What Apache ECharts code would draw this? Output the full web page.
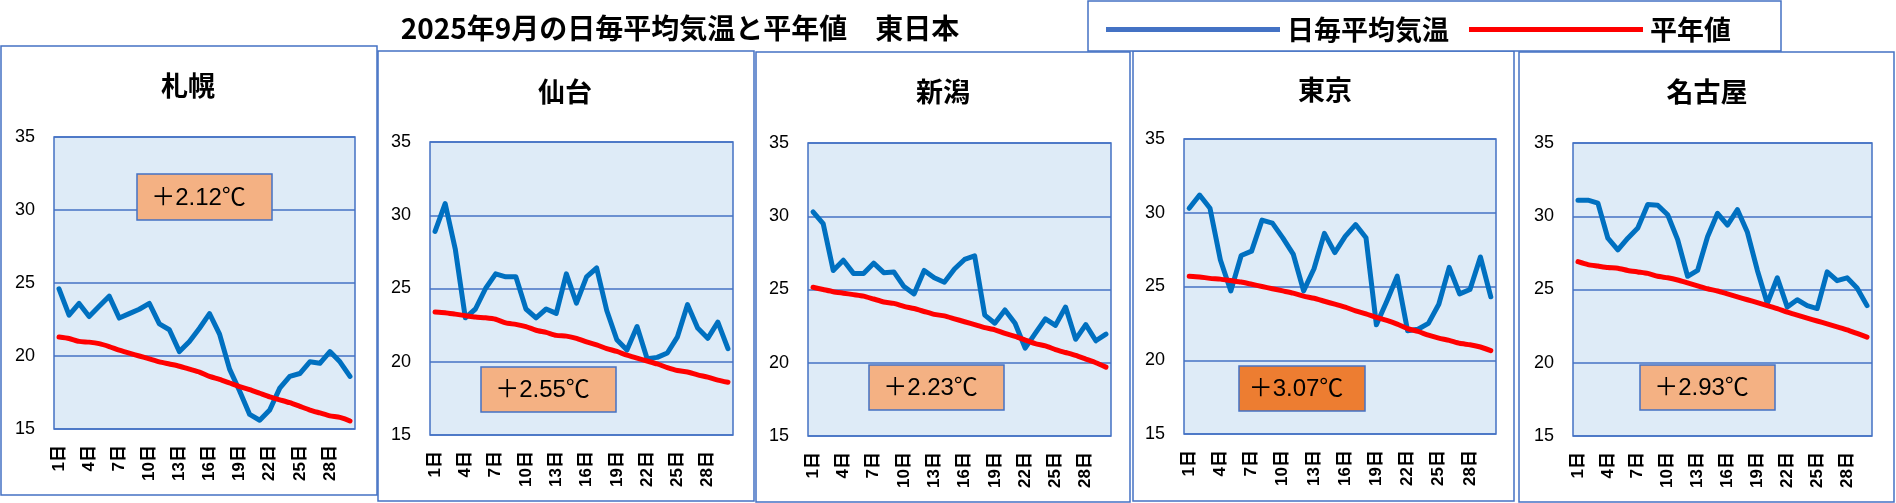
<!DOCTYPE html>
<html>
<head>
<meta charset="utf-8">
<script src="https://cdn.jsdelivr.net/npm/echarts@6/dist/echarts.min.js"></script>
<style>html,body{margin:0;padding:0;background:#fff;}#c{width:1896px;height:503px;}</style>
</head>
<body>
<div id="c"></div>
<script>
// ---- data ----
const mainTitle = '2025年9月の日毎平均気温と平年値　東日本';
const seriesNames = ['日毎平均気温', '平年値'];
const stations = ['札幌', '仙台', '新潟', '東京', '名古屋'];
const days = ['1日','2日','3日','4日','5日','6日','7日','8日','9日','10日','11日','12日','13日','14日','15日','16日','17日','18日','19日','20日','21日','22日','23日','24日','25日','26日','27日','28日','29日','30日'];
const anomalies = [2.12, 2.55, 2.23, 3.07, 2.93];
const yTicks = [15, 20, 25, 30, 35];

const sapporoDaily  = [24.6,22.8,23.6,22.7,23.4,24.1,22.6,22.9,23.2,23.6,22.2,21.8,20.3,21.0,21.9,22.9,21.5,19.1,17.6,16.0,15.6,16.3,17.8,18.6,18.8,19.6,19.5,20.3,19.6,18.6];
const sapporoNormal = [21.3,21.2,21.0,20.95,20.85,20.65,20.4,20.2,20.0,19.8,19.6,19.45,19.3,19.1,18.9,18.6,18.4,18.15,17.9,17.7,17.45,17.2,17.0,16.8,16.55,16.3,16.1,15.9,15.8,15.55];
const sendaiDaily   = [28.9,30.8,27.7,23.0,23.6,25.0,26.0,25.8,25.8,23.6,23.0,23.6,23.3,26.0,24.0,25.8,26.4,23.5,21.5,20.8,22.4,20.2,20.3,20.6,21.7,23.9,22.3,21.6,22.7,20.9];
const sendaiNormal  = [23.4,23.35,23.25,23.15,23.05,23.0,22.9,22.65,22.55,22.4,22.15,22.0,21.8,21.75,21.6,21.35,21.15,20.9,20.7,20.45,20.25,20.05,19.85,19.6,19.4,19.3,19.1,18.95,18.75,18.6];
const niigataDaily  = [30.3,29.5,26.3,27.0,26.1,26.1,26.8,26.15,26.2,25.2,24.7,26.3,25.8,25.5,26.4,27.05,27.3,23.25,22.7,23.6,22.7,21.0,22.0,23.0,22.55,23.8,21.6,22.6,21.5,21.95];
const niigataNormal = [25.15,25.0,24.85,24.75,24.65,24.55,24.35,24.15,24.05,23.85,23.7,23.5,23.3,23.2,23.0,22.8,22.6,22.4,22.25,22.0,21.8,21.55,21.3,21.15,20.9,20.7,20.5,20.25,20.0,19.7];
const tokyoDaily    = [30.3,31.2,30.3,26.8,24.7,27.1,27.4,29.5,29.3,28.3,27.2,24.7,26.2,28.6,27.3,28.4,29.2,28.3,22.4,24.0,25.7,22.0,22.1,22.5,23.8,26.3,24.5,24.8,27.0,24.3];
const tokyoNormal   = [25.7,25.65,25.55,25.5,25.4,25.3,25.15,25.0,24.85,24.7,24.55,24.35,24.2,24.0,23.8,23.6,23.35,23.15,22.9,22.7,22.45,22.15,21.95,21.7,21.5,21.35,21.15,21.05,20.9,20.65];
const nagoyaDaily   = [31.1,31.1,30.9,28.5,27.7,28.5,29.2,30.8,30.75,30.1,28.4,25.9,26.3,28.6,30.2,29.4,30.45,28.9,26.3,24.05,25.8,23.8,24.3,23.9,23.7,26.2,25.6,25.8,25.1,23.9];
const nagoyaNormal  = [26.9,26.7,26.6,26.5,26.45,26.3,26.2,26.1,25.9,25.8,25.65,25.45,25.25,25.05,24.9,24.7,24.5,24.3,24.1,23.9,23.7,23.45,23.25,23.05,22.85,22.65,22.45,22.25,22.0,21.75];

const dailyData  = [sapporoDaily, sendaiDaily, niigataDaily, tokyoDaily, nagoyaDaily];
const normalData = [sapporoNormal, sendaiNormal, niigataNormal, tokyoNormal, nagoyaNormal];

// ---- layout ----
const BLUE_BORDER = '#4472C4';
const panels = [
  {x1: 1,    y1: 46, x2: 377,  y2: 495, grid: {left: 54,   top: 137, width: 301, height: 292}, tx: 188,  ty: 86, box: [137, 174, 135, 46], boxColor: '#F4B183'},
  {x1: 378,  y1: 51, x2: 754,  y2: 501, grid: {left: 430,  top: 142, width: 303, height: 293}, tx: 565,  ty: 92, box: [481, 367, 135, 45], boxColor: '#F4B183'},
  {x1: 756,  y1: 52, x2: 1130, y2: 502, grid: {left: 808,  top: 143, width: 303, height: 293}, tx: 943,  ty: 92, box: [869, 365, 135, 45], boxColor: '#F4B183'},
  {x1: 1133, y1: 51, x2: 1514, y2: 501, grid: {left: 1184, top: 139, width: 312, height: 295}, tx: 1325, ty: 90, box: [1239, 366, 126, 45], boxColor: '#ED7D31'},
  {x1: 1519, y1: 52, x2: 1894, y2: 502, grid: {left: 1573, top: 143, width: 299, height: 293}, tx: 1707, ty: 92, box: [1640, 365, 135, 45], boxColor: '#F4B183'}
];

const grids = [], xAxes = [], yAxes = [], series = [], graphics = [];
const fmt = v => '＋' + v.toFixed(2) + '℃';

panels.forEach((p, i) => {
  grids.push(Object.assign({show: true, backgroundColor: '#DEEBF7', borderColor: BLUE_BORDER, borderWidth: 1.5}, p.grid));
  xAxes.push({
    type: 'category', gridIndex: i, data: days, boundaryGap: true,
    axisLine: {show: false}, axisTick: {show: false},
    axisLabel: {interval: 2, rotate: 90, margin: 16, fontSize: 17, fontWeight: 'bold', color: '#000',
      fontFamily: '"Liberation Sans", "Noto Sans CJK JP", sans-serif'}
  });
  yAxes.push({
    type: 'value', gridIndex: i, min: yTicks[0], max: yTicks[yTicks.length - 1], interval: 5,
    axisLine: {show: false}, axisTick: {show: false},
    splitLine: {show: true, lineStyle: {color: BLUE_BORDER, width: 1.5}},
    axisLabel: {margin: 19, fontSize: 18, color: '#000', fontFamily: '"Liberation Sans", Arial, sans-serif'}
  });
  series.push({
    name: seriesNames[0], type: 'line', xAxisIndex: i, yAxisIndex: i, data: dailyData[i],
    showSymbol: false, symbol: 'none', color: '#0070C0',
    lineStyle: {color: '#0070C0', width: 5, cap: 'round', join: 'round'}, z: 3, animation: false
  });
  series.push({
    name: seriesNames[1], type: 'line', xAxisIndex: i, yAxisIndex: i, data: normalData[i],
    showSymbol: false, symbol: 'none', color: '#FF0000', smooth: 0.2,
    lineStyle: {color: '#FF0000', width: 5, cap: 'round', join: 'round'}, z: 4, animation: false
  });
  // panel border
  graphics.push({type: 'rect', silent: true, z: 1,
    shape: {x: p.x1, y: p.y1, width: p.x2 - p.x1, height: p.y2 - p.y1},
    style: {fill: 'none', stroke: BLUE_BORDER, lineWidth: 1.5}});
  // panel title
  graphics.push({type: 'text', z: 10, x: p.tx, y: p.ty,
    style: {text: stations[i], fill: '#000', font: 'bold 27px "Noto Sans CJK JP", sans-serif', align: 'center', verticalAlign: 'middle'}});
  // anomaly box
  const b = p.box;
  graphics.push({type: 'rect', z: 100, silent: true,
    shape: {x: b[0], y: b[1], width: b[2], height: b[3]},
    style: {fill: p.boxColor, stroke: BLUE_BORDER, lineWidth: 1.5}});
  graphics.push({type: 'text', z: 101, x: b[0] + b[2] / 2 - 6, y: b[1] + b[3] / 2 + 1,
    style: {text: fmt(anomalies[i]), fill: '#000', font: '24px "Liberation Sans", "Noto Sans CJK JP", sans-serif', align: 'center', verticalAlign: 'middle'}});
});

// legend frame
graphics.push({type: 'rect', silent: true, z: 1,
  shape: {x: 1088, y: 1, width: 693, height: 50},
  style: {fill: '#fff', stroke: BLUE_BORDER, lineWidth: 1.5}});

const option = {
  animation: false,
  backgroundColor: '#fff',
  title: {
    text: mainTitle, left: 675, top: 9, textAlign: 'center',
    textStyle: {fontSize: 28, fontWeight: 'bold', color: '#000', fontFamily: '"Noto Sans CJK JP", sans-serif'}
  },
  legend: {
    left: 1101, top: 11, icon: 'rect', itemWidth: 174, itemHeight: 5, itemGap: 20, z: 20,
    data: [
      {name: seriesNames[0], itemStyle: {color: '#4472C4'}},
      {name: seriesNames[1], itemStyle: {color: '#FF0000'}}
    ],
    textStyle: {fontSize: 27, fontWeight: 'bold', color: '#000', fontFamily: '"Noto Sans CJK JP", sans-serif', padding: [0, 0, 0, 2]},
    selectedMode: false
  },
  grid: grids, xAxis: xAxes, yAxis: yAxes, series: series,
  graphic: {elements: graphics}
};

const chart = echarts.init(document.getElementById('c'), null, {renderer: 'canvas'});
chart.setOption(option);
</script>
</body>
</html>
